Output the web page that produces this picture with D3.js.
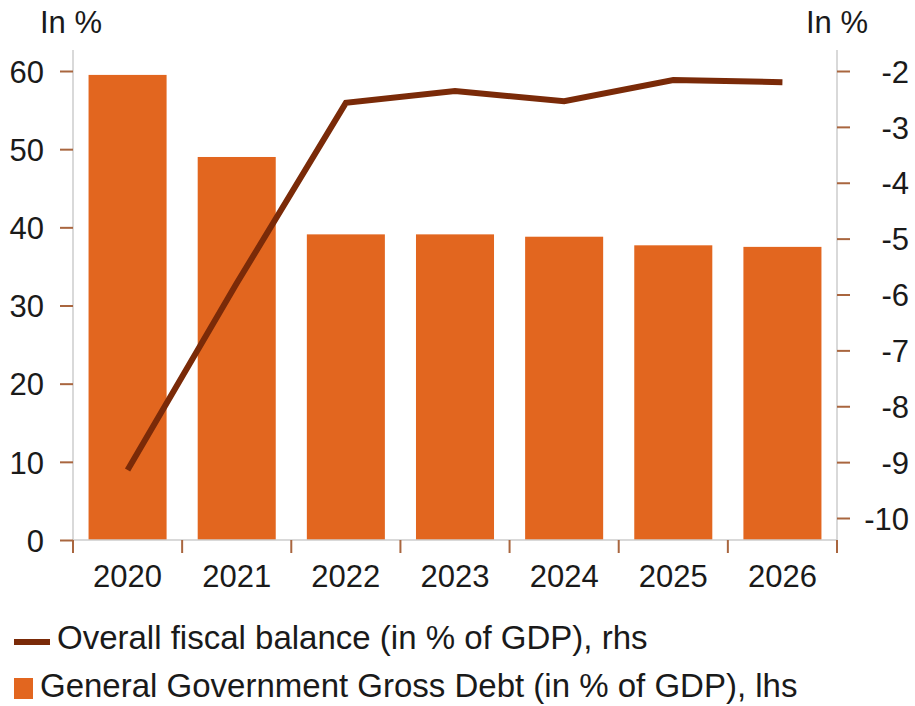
<!DOCTYPE html>
<html>
<head>
<meta charset="utf-8">
<script src="https://cdn.jsdelivr.net/npm/d3@7"></script>
<style>
  body { margin: 0; background: #fff; }
  text { font-family: "Liberation Sans", Arial, sans-serif; fill: #1a1a1a; }
</style>
</head>
<body>
<svg></svg>
<script>
// chart data
const years = ['2020', '2021', '2022', '2023', '2024', '2025', '2026'];
const grossDebt = [59.5, 49.0, 39.1, 39.1, 38.8, 37.7, 37.5];      // lhs, bars
const fiscalBalance = [-9.14, -5.8, -2.57, -2.36, -2.54, -2.16, -2.2]; // rhs, line
const leftTicks = [0, 10, 20, 30, 40, 50, 60];
const rightTicks = [-10, -9, -8, -7, -6, -5, -4, -3, -2];

const w = 915;
const h = 706;
const plotLeft = 73, plotRight = 837, plotTop = 50, plotBottom = 540;

const barColor = '#E2661F';
const lineColor = '#7A2A08';
const tickColor = '#A9663F';
const axisColor = '#cccccc';

const svg = d3.select('svg').attr('width', w).attr('height', h);

// scales
const xScale = d3.scaleBand()
    .domain(years)
    .range([plotLeft, plotRight])
    .paddingInner(0.285)
    .paddingOuter(0.1425);

// 60 sits at y=71, 0 at y=540
const yLeft = d3.scaleLinear().domain([0, 60]).range([plotBottom, 71]);
// -2 at y=71, -10 at y=518
const yRight = d3.scaleLinear().domain([-10, -2]).range([518, 71]);

// bars
svg.selectAll('rect.bar')
    .data(grossDebt)
    .enter()
    .append('rect')
    .attr('class', 'bar')
    .attr('x', (d, i) => xScale(years[i]))
    .attr('width', xScale.bandwidth())
    .attr('y', d => yLeft(d))
    .attr('height', d => yLeft(0) - yLeft(d))
    .attr('fill', barColor);

// axis lines
svg.append('line')
    .attr('x1', plotLeft).attr('x2', plotLeft).attr('y1', plotTop).attr('y2', plotBottom)
    .attr('stroke', axisColor).attr('stroke-width', 1.5);
svg.append('line')
    .attr('x1', plotRight).attr('x2', plotRight).attr('y1', plotTop).attr('y2', plotBottom)
    .attr('stroke', axisColor).attr('stroke-width', 1.5);
svg.append('line')
    .attr('x1', plotLeft).attr('x2', plotRight).attr('y1', plotBottom).attr('y2', plotBottom)
    .attr('stroke', axisColor).attr('stroke-width', 1.5);

// left axis
const yAxisL = d3.axisLeft(yLeft).tickValues(leftTicks).tickSize(13).tickPadding(16);
const gL = svg.append('g').attr('transform', `translate(${plotLeft},0)`).call(yAxisL);
gL.select('.domain').remove();
gL.selectAll('.tick line').attr('stroke', tickColor).attr('stroke-width', 2);
gL.selectAll('.tick text').attr('font-size', 31).attr('dy', '0.36em').style('fill', '#1a1a1a');

// right axis, labels right-aligned near the edge
const yAxisR = d3.axisRight(yRight).tickValues(rightTicks).tickSize(13).tickFormat(d => d);
const gR = svg.append('g').attr('transform', `translate(${plotRight},0)`).call(yAxisR);
gR.select('.domain').remove();
gR.selectAll('.tick line').attr('stroke', tickColor).attr('stroke-width', 2);
gR.selectAll('.tick text')
    .attr('font-size', 31)
    .attr('text-anchor', 'end')
    .attr('x', 909 - plotRight)
    .attr('dy', '0.36em')
    .style('fill', '#1a1a1a')
    .text(d => d < 0 ? '-' + Math.abs(d) : d);

// x axis: ticks at category boundaries
const boundaries = years.map(y => xScale(y) - xScale.step() * xScale.paddingInner() / 2);
boundaries.push(plotRight);
svg.selectAll('line.xtick')
    .data(boundaries)
    .enter()
    .append('line')
    .attr('class', 'xtick')
    .attr('x1', d => d).attr('x2', d => d)
    .attr('y1', plotBottom).attr('y2', plotBottom + 13)
    .attr('stroke', tickColor).attr('stroke-width', 2);

svg.selectAll('text.xlabel')
    .data(years)
    .enter()
    .append('text')
    .attr('class', 'xlabel')
    .attr('x', d => xScale(d) + xScale.bandwidth() / 2)
    .attr('y', 587)
    .attr('text-anchor', 'middle')
    .attr('font-size', 31)
    .text(d => d);

// line
const line = d3.line()
    .x((d, i) => xScale(years[i]) + xScale.bandwidth() / 2)
    .y(d => yRight(d));
svg.append('path')
    .datum(fiscalBalance)
    .attr('d', line)
    .attr('fill', 'none')
    .attr('stroke', lineColor)
    .attr('stroke-width', 6)
    .attr('stroke-linejoin', 'miter');

// unit labels
svg.append('text').attr('x', 40).attr('y', 33).attr('font-size', 31).text('In %');
svg.append('text').attr('x', 868).attr('y', 33).attr('font-size', 31).attr('text-anchor', 'end').text('In %');

// legend
svg.append('line')
    .attr('x1', 14).attr('x2', 50).attr('y1', 642).attr('y2', 642)
    .attr('stroke', lineColor).attr('stroke-width', 6);
svg.append('text').attr('x', 57).attr('y', 649).attr('font-size', 33)
    .text('Overall fiscal balance (in % of GDP), rhs');

svg.append('rect')
    .attr('x', 14).attr('y', 678).attr('width', 19).attr('height', 21)
    .attr('fill', barColor);
svg.append('text').attr('x', 40).attr('y', 697).attr('font-size', 33)
    .text('General Government Gross Debt (in % of GDP), lhs');
</script>
</body>
</html>
